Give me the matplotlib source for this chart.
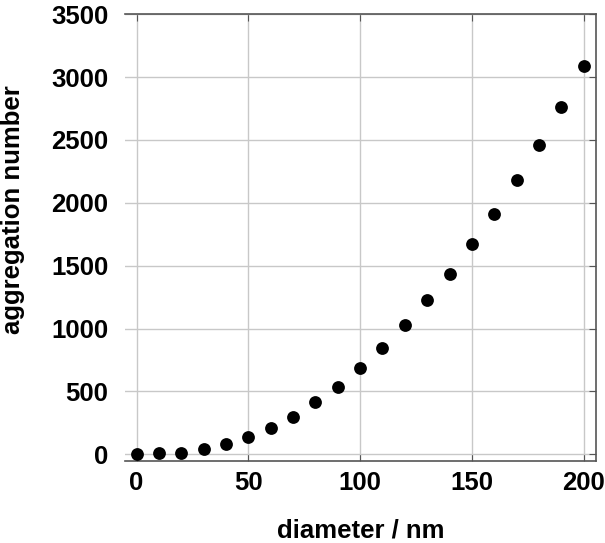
import matplotlib
matplotlib.use("Agg")
import matplotlib.pyplot as plt

# diameter (nm) vs aggregation number
diameter = [0, 10, 20, 30, 40, 50, 60, 70, 80, 90, 100,
            110, 120, 130, 140, 150, 160, 170, 180, 190, 200]
aggregation = [0, 10, 12, 40, 82, 135, 207, 299, 413, 537, 684,
               848, 1028, 1224, 1433, 1669, 1910, 2180, 2461, 2763, 3086]

plt.rcParams['font.family'] = ['Liberation Sans', 'DejaVu Sans']
plt.rcParams['font.weight'] = 'bold'

fig = plt.figure(figsize=(6.05, 5.43), dpi=100)
ax = fig.add_axes([0.2066, 0.151, 0.778, 0.823])

ax.scatter(diameter, aggregation, s=85, color='black', zorder=3, linewidths=0)

ax.set_xlim(-5.2, 205.4)
ax.set_ylim(-53, 3500)
ax.set_xticks([0, 50, 100, 150, 200])
ax.set_yticks(range(0, 3501, 500))

ax.grid(True, color='#c8c8c8', linewidth=1.0)
ax.set_axisbelow(True)

for side in ['top', 'right', 'bottom']:
    ax.spines[side].set_color('#555555')
    ax.spines[side].set_linewidth(1.2)
ax.spines['left'].set_visible(False)

ax.tick_params(axis='x', direction='in', top=True, bottom=True, length=5,
               color='#555555', labelsize=18.5, pad=7)
ax.tick_params(axis='y', direction='in', left=False, right=True, length=5,
               color='#555555', labelsize=18.5, pad=12)

ax.set_xlabel('diameter / nm', fontsize=18.5, fontweight='bold')
ax.set_ylabel('aggregation number', fontsize=18.5, fontweight='bold')
ax.xaxis.set_label_coords(0.5, -0.128)
ax.yaxis.set_label_coords(-0.213, 0.563)

fig.savefig('out.png', dpi=100)
